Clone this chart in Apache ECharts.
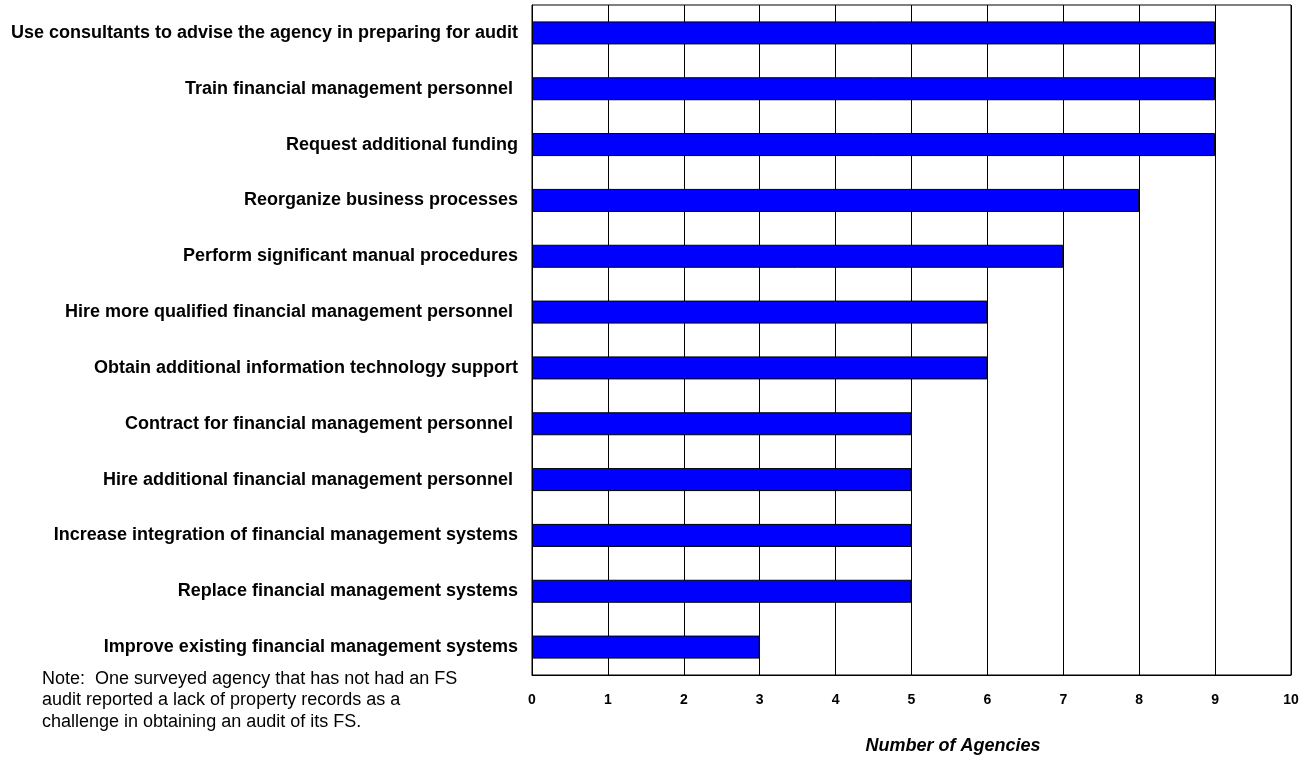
<!DOCTYPE html>
<html>
<head>
<meta charset="utf-8">
<script src="https://cdn.jsdelivr.net/npm/echarts@6/dist/echarts.min.js"></script>
<style>
  html, body { margin: 0; padding: 0; background: #fff; }
  #chart { width: 1310px; height: 761px; }
</style>
</head>
<body>
<div id="chart"></div>
<script>
// Actions agencies plan to take, top to bottom
const categories = [
  'Use consultants to advise the agency in preparing for audit',
  'Train financial management personnel ',
  'Request additional funding',
  'Reorganize business processes',
  'Perform significant manual procedures',
  'Hire more qualified financial management personnel ',
  'Obtain additional information technology support',
  'Contract for financial management personnel ',
  'Hire additional financial management personnel ',
  'Increase integration of financial management systems',
  'Replace financial management systems',
  'Improve existing financial management systems'
];
const agencyCounts = [9, 9, 9, 8, 7, 6, 6, 5, 5, 5, 5, 3];
const axisTitle = 'Number of Agencies';
const noteLines = [
  'Note:  One surveyed agency that has not had an FS',
  'audit reported a lack of property records as a',
  'challenge in obtaining an audit of its FS.'
];

const FONT = '"Liberation Sans", Arial, sans-serif';
const chart = echarts.init(document.getElementById('chart'), null, { renderer: 'canvas' });

chart.setOption({
  animation: false,
  backgroundColor: '#ffffff',
  grid: {
    left: 532, right: 19, top: 5, bottom: 86,
    outerBoundsMode: 'none',
    containLabel: false,
    show: true, borderColor: '#000', borderWidth: 1, backgroundColor: 'transparent'
  },
  xAxis: {
    type: 'value',
    min: 0, max: 10, interval: 1,
    axisLine: { show: true, lineStyle: { color: '#000', width: 1 } },
    axisTick: { show: false },
    splitLine: { show: true, lineStyle: { color: '#000', width: 1 } },
    axisLabel: {
      margin: 18, color: '#000', fontFamily: FONT, fontWeight: 'bold', fontSize: 14
    }
  },
  yAxis: {
    type: 'category',
    data: categories,
    inverse: true,
    axisLine: { show: true, lineStyle: { color: '#000', width: 1 } },
    axisTick: { show: false },
    splitLine: { show: false },
    axisLabel: {
      margin: 14, color: '#000', fontFamily: FONT, fontWeight: 'bold', fontSize: 18
    }
  },
  series: [{
    type: 'bar',
    data: agencyCounts,
    barWidth: 23,
    itemStyle: { color: '#0000ff', borderColor: '#000', borderWidth: 1 },
    z: 3
  }],
  graphic: [
    {
      // horizontal axis title
      type: 'text',
      x: 953,
      y: 746,
      style: {
        text: axisTitle, fill: '#000',
        font: 'italic bold 18px ' + FONT,
        align: 'center', verticalAlign: 'middle'
      }
    }
  ].concat(noteLines.map((line, i) => ({
    type: 'text',
    left: 42,
    top: 670 + i * 21.5,
    style: { text: line, fill: '#000', font: '18px ' + FONT }
  })))
});
</script>
</body>
</html>
